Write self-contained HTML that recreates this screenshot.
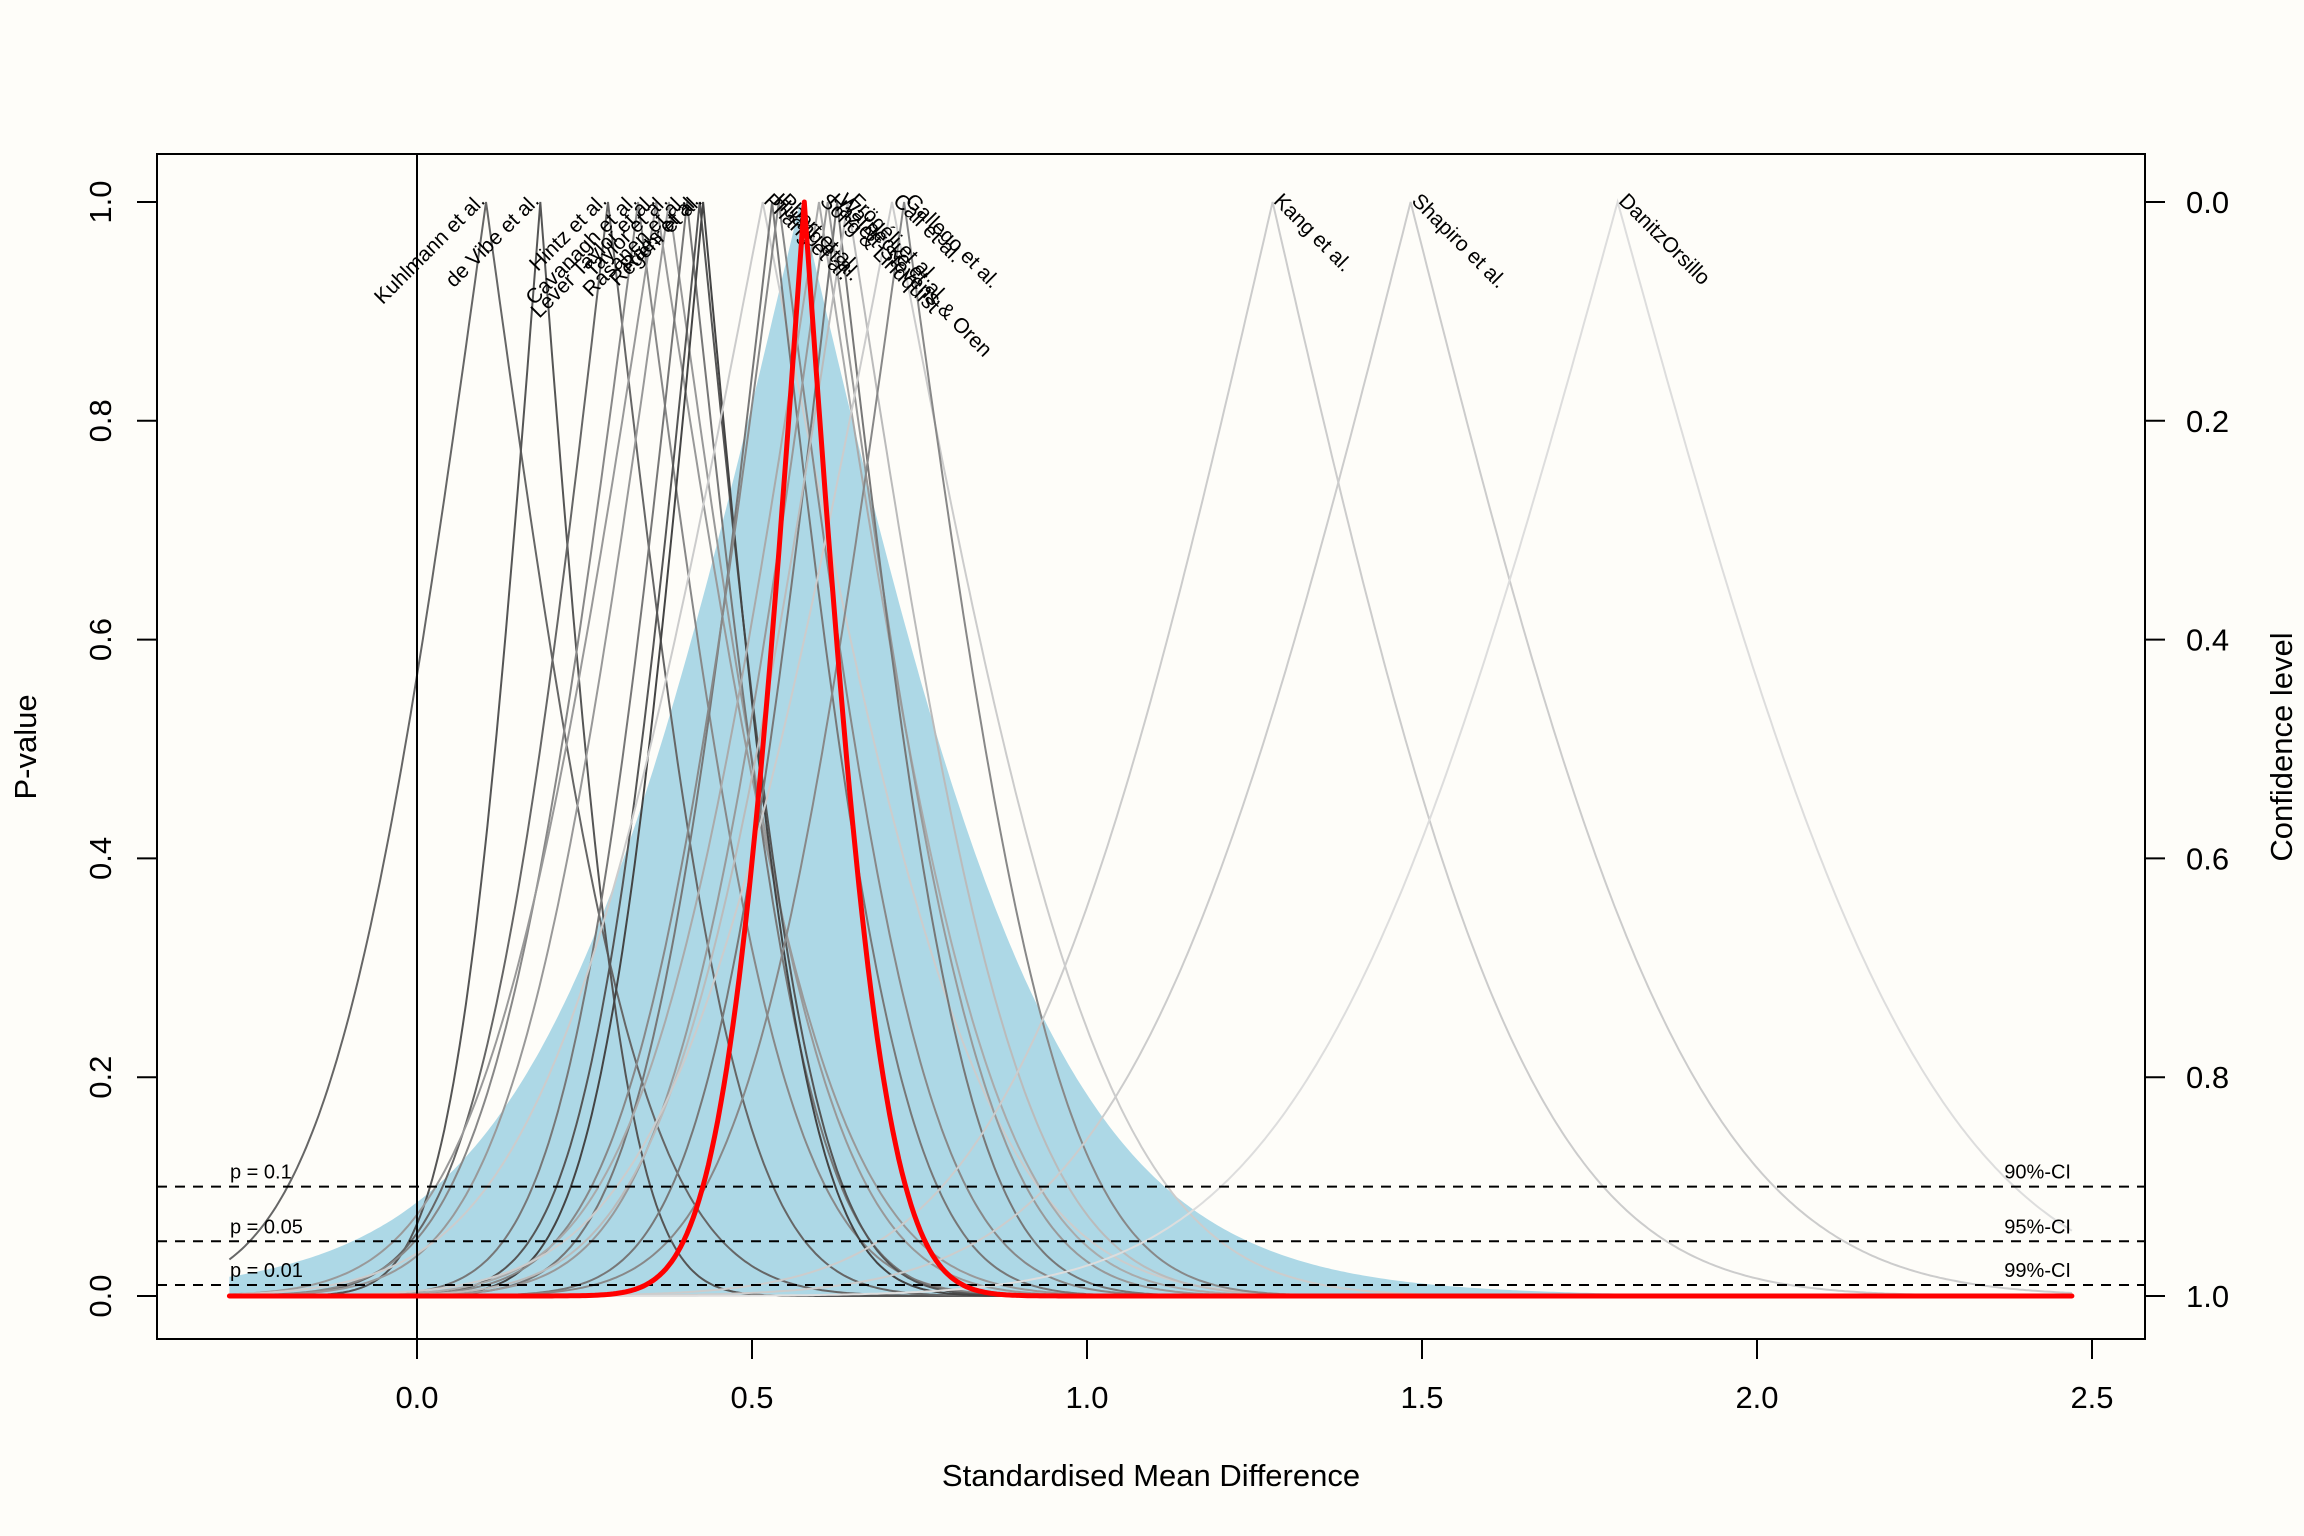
<!DOCTYPE html>
<html><head><meta charset="utf-8">
<style>
html,body{margin:0;padding:0;background:#fefdf9;}
svg{display:block;font-family:"Liberation Sans",Arial,sans-serif;}
</style></head>
<body>
<svg id="chart" width="2304" height="1536" viewBox="0 0 2304 1536" xmlns="http://www.w3.org/2000/svg">
<rect x="0" y="0" width="2304" height="1536" fill="#fefdf9"/>
<g id="blue"></g>
<g id="curves"></g>
<g id="labels"></g>
<g id="refs"></g>
<g id="summary"></g>
<g id="axes"></g>
</svg>
<script>
const studyNames = ["Kuhlmann et al.","de Vibe et al.","Hintz et al.","Cavanagh et al.","Lever Taylor et al.","Taylor et al.","Rasanen et al.","Raes et al.","Regehr et al.","Phang et al.","Huang et al.","Pbert et al.","Song & Lindquist","Hazlett-Stevens & Oren","Warnecke et al.","Frögéli et al.","Call et al.","Gallego et al.","Kang et al.","Shapiro et al.","DanitzOrsillo"];
const studyEst = [0.103,0.184,0.285,0.33,0.357,0.376,0.403,0.422,0.427,0.516,0.53,0.54,0.60,0.613,0.627,0.643,0.709,0.727,1.277,1.483,1.792];
const studySE = [0.18,0.10,0.15,0.17,0.20,0.18,0.14,0.13,0.12,0.25,0.15,0.17,0.20,0.18,0.15,0.20,0.25,0.18,0.30,0.33,0.36];
const studyShade = ["#666","#555","#666","#888","#999","#999","#777","#555","#444","#ccc","#777","#888","#aaa","#999","#777","#bbb","#ccc","#888","#ccc","#ccc","#ddd"];
const pooledEst = 0.578;
const pooledSE = 0.092;
const predCenter = 0.572;
const predSD = 0.30;
const predDF = 10;
const xTicks = [0,0.5,1,1.5,2,2.5];
const yTicks = [0,0.2,0.4,0.6,0.8,1.0];
const refP = [0.1,0.05,0.01];
const refLeft = ["p = 0.1","p = 0.05","p = 0.01"];
const refRight = ["90%-CI","95%-CI","99%-CI"];
const xRange = [-0.28,2.47];

const NS="http://www.w3.org/2000/svg";
const L=157,R=2145,T=154,B=1339;
function X(v){return 417+v*670;}
function Y(p){return 1296-p*1094;}
function mk(tag,attrs,parent){const e=document.createElementNS(NS,tag);for(const k in attrs)e.setAttribute(k,attrs[k]);parent.appendChild(e);return e;}
function erf(x){const s=x<0?-1:1;x=Math.abs(x);const t=1/(1+0.3275911*x);const y=1-(((((1.061405429*t-1.453152027)*t)+1.421413741)*t-0.284496736)*t+0.254829592)*t*Math.exp(-x*x);return s*y;}
function pval(x,m,s){const z=Math.abs(x-m)/s;return 1-erf(z/Math.SQRT2);}
function lgamma(z){const g=[76.18009172947146,-86.50532032941677,24.01409824083091,-1.231739572450155,0.1208650973866179e-2,-0.5395239384953e-5];let x=z,y=z,tmp=x+5.5;tmp-=(x+0.5)*Math.log(tmp);let ser=1.000000000190015;for(let j=0;j<6;j++)ser+=g[j]/++y;return -tmp+Math.log(2.5066282746310005*ser/x);}
function tpval(x,m,s,df){const t=Math.abs(x-m)/s;if(t===0)return 1;const c=Math.exp(lgamma((df+1)/2)-lgamma(df/2))/Math.sqrt(df*Math.PI);const n=200,h=t/n;let sum=0;for(let i=0;i<=n;i++){const u=i*h;const f=c*Math.pow(1+u*u/df,-(df+1)/2);sum+=f*(i===0||i===n?1:(i%2?4:2));}const area=sum*h/3;return Math.max(0,1-2*area);}
function xsWithPeak(m){const N=600;const xs=[];for(let i=0;i<=N;i++)xs.push(xRange[0]+(xRange[1]-xRange[0])*i/N);xs.push(m);xs.sort((a,b)=>a-b);return xs;}
function peakPath(m,s){return xsWithPeak(m).map(x=>X(x).toFixed(1)+","+Y(pval(x,m,s)).toFixed(1)).join(" ");}

// blue prediction region
const bg=document.getElementById('blue');
const bpts=xsWithPeak(predCenter).map(x=>X(x).toFixed(1)+","+Y(tpval(x,predCenter,predSD,predDF)).toFixed(1)).join(" ");
const bp=mk('polygon',{points:X(xRange[0])+","+Y(0)+" "+bpts+" "+X(xRange[1])+","+Y(0),fill:"#add8e6",stroke:"none"},bg);



// study curves
const cg=document.getElementById('curves');
const lg=document.getElementById('labels');
studyEst.forEach((m,i)=>{
 const pl=mk('polyline',{points:peakPath(m,studySE[i]),fill:"none",stroke:studyShade[i],"stroke-width":2},cg);
 
 
 const px=X(m),py=Y(1);
 const up=m<0.5;
 const t=mk('text',{x:px,y:py,"font-size":21,fill:"#000","text-anchor":up?"end":"start",transform:`rotate(${up?-45:45} ${px} ${py})`},lg);
 t.textContent=studyNames[i];
 
 
});

// reference lines
const rg=document.getElementById('refs');
refP.forEach((p,i)=>{
 const ln=mk('line',{x1:L,x2:R,y1:Y(p),y2:Y(p),stroke:"#000","stroke-width":2,"stroke-dasharray":"10,8"},rg);
 
 
 const a=mk('text',{x:230,y:Y(p)-8,"font-size":20,fill:"#000"},rg);a.textContent=refLeft[i];
 
 
 const b=mk('text',{x:2071,y:Y(p)-8,"font-size":20,fill:"#000","text-anchor":"end"},rg);b.textContent=refRight[i];
 
 
});
const zl=mk('line',{x1:X(0),x2:X(0),y1:T,y2:B,stroke:"#000","stroke-width":2},rg);



// summary curve
const sg=document.getElementById('summary');
const sc=mk('polyline',{points:peakPath(pooledEst,pooledSE),fill:"none",stroke:"#ff0000","stroke-width":5,"stroke-linecap":"round","stroke-linejoin":"round"},sg);



// axes
const ag=document.getElementById('axes');
const box=mk('rect',{x:L,y:T,width:R-L,height:B-T,fill:"none",stroke:"#000","stroke-width":2},ag);


xTicks.forEach(v=>{
 const tl=mk('line',{x1:X(v),x2:X(v),y1:B,y2:B+20,stroke:"#000","stroke-width":2},ag);
 
 
 const tx=mk('text',{x:X(v),y:1408,"font-size":31,"text-anchor":"middle",fill:"#000"},ag);tx.textContent=v.toFixed(1);
 
 
});
yTicks.forEach(v=>{
 const tl=mk('line',{x1:L,x2:L-20,y1:Y(v),y2:Y(v),stroke:"#000","stroke-width":2},ag);
 
 
 const tx=mk('text',{x:111,y:Y(v),"font-size":31,"text-anchor":"middle",fill:"#000",transform:`rotate(-90 111 ${Y(v)})`},ag);tx.textContent=v.toFixed(1);
 
 
 const tr=mk('line',{x1:R,x2:R+20,y1:Y(v),y2:Y(v),stroke:"#000","stroke-width":2},ag);
 
 
 const rx=mk('text',{x:2186,y:Y(v)+11,"font-size":31,fill:"#000"},ag);rx.textContent=(1-v).toFixed(1);
 
 
});
const xt=mk('text',{x:1151,y:1486,"font-size":31,"text-anchor":"middle",fill:"#000"},ag);xt.textContent="Standardised Mean Difference";


const yt=mk('text',{x:36,y:747,"font-size":31,"text-anchor":"middle",fill:"#000",transform:"rotate(-90 36 747)"},ag);yt.textContent="P-value";


const rt=mk('text',{x:2292,y:747,"font-size":31,"text-anchor":"middle",fill:"#000",transform:"rotate(-90 2292 747)"},ag);rt.textContent="Confidence level";


</script>
</body></html>
